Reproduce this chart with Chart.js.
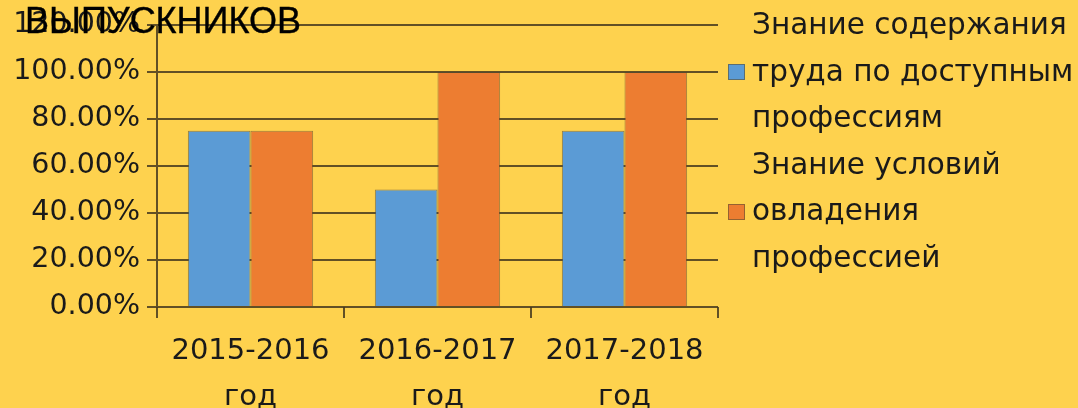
<!DOCTYPE html>
<html>
<head>
<meta charset="utf-8">
<script src="https://cdn.jsdelivr.net/npm/chart.js@4/dist/chart.umd.min.js"></script>
<style>
	html, body { margin: 0; padding: 0; background: #FED24E; }
	#wrap { position: relative; width: 1078px; height: 408px; overflow: hidden; }
	#title { position: absolute; left: 25px; top: 0px; font: 36px 'Liberation Sans', Arial, sans-serif; color: #000; white-space: nowrap; -webkit-text-stroke: 0.4px #000; }
	#legend { position: absolute; left: 728px; top: 1px; font: 29.5px 'DejaVu Sans', sans-serif; color: #1a1a1a; line-height: 46.5px; }
	.item { position: relative; padding-left: 24px; }
	.box { position: absolute; left: 0; width: 17px; height: 16px; box-sizing: border-box; border: 1px solid rgba(90,80,50,0.6); }
</style>
</head>
<body>
<div id="wrap">
	<canvas id="chart" width="1078" height="408"></canvas>
	<div id="title">ВЫПУСКНИКОВ</div>
	<div id="legend"></div>
</div>
<script>
var categories = [['2015-2016', 'год'], ['2016-2017', 'год'], ['2017-2018', 'год']];
var seriesNames = [['Знание содержания', 'труда по доступным', 'профессиям'], ['Знание условий', 'овладения', 'профессией']];
var valuesContent = [0.75, 0.50, 0.75];
var valuesConditions = [0.75, 1.00, 1.00];
var yTickLabels = ['0.00%', '20.00%', '40.00%', '60.00%', '80.00%', '100.00%', '120.00%'];
var seriesColors = ['#5B9BD5', '#ED7D31'];

var gridColor = 'rgba(70,58,30,0.85)';

var chart = new Chart(document.getElementById('chart'), {
	type: 'bar',
	data: {
		labels: categories,
		datasets: [{
			label: seriesNames[0].join(' '),
			data: valuesContent,
			backgroundColor: seriesColors[0],
			borderColor: 'rgba(80,70,50,0.6)',
			borderWidth: 1,
			categoryPercentage: 0.67,
			barPercentage: 1
		}, {
			label: seriesNames[1].join(' '),
			data: valuesConditions,
			backgroundColor: seriesColors[1],
			borderColor: 'rgba(80,70,50,0.6)',
			borderWidth: 1,
			categoryPercentage: 0.67,
			barPercentage: 1
		}]
	},
	options: {
		responsive: false,
		animation: false,
		layout: { padding: { top: 25, right: 360, left: 0, bottom: 0 } },
		plugins: {
			legend: { display: false },
			title: { display: false },
			tooltip: { enabled: false }
		},
		scales: {
			x: {
				offset: true,
				grid: { drawOnChartArea: false, drawTicks: true, tickLength: 11, color: gridColor, lineWidth: 2, offset: true },
				border: { display: false },
				ticks: {
					color: '#1a1a1a',
					padding: 10,
					maxRotation: 0,
					font: { family: 'DejaVu Sans', size: 29, lineHeight: 1.6 }
				},
				afterFit: function (scale) { scale.height = 101; }
			},
			y: {
				min: 0,
				max: 1.2,
				ticks: {
					stepSize: 0.2,
					color: '#1a1a1a',
					padding: 7,
					font: { family: 'DejaVu Sans', size: 28.5 },
					callback: function (value, index) { return yTickLabels[index]; }
				},
				grid: { color: gridColor, lineWidth: 2, tickLength: 10 },
				border: { display: true, color: gridColor, width: 2 },
				afterFit: function (scale) { scale.width = 157; }
			}
		}
	}
});

//build legend from the series names and colours
var legend = document.getElementById('legend');
for (var i = 0; i < seriesNames.length; i++) {
	var item = document.createElement('div');
	item.className = 'item';
	var box = document.createElement('div');
	box.className = 'box';
	box.style.background = seriesColors[i];
	box.style.top = '63px';
	item.appendChild(box);
	item.innerHTML += seriesNames[i].join('<br>');
	legend.appendChild(item);
}
</script>
</body>
</html>
